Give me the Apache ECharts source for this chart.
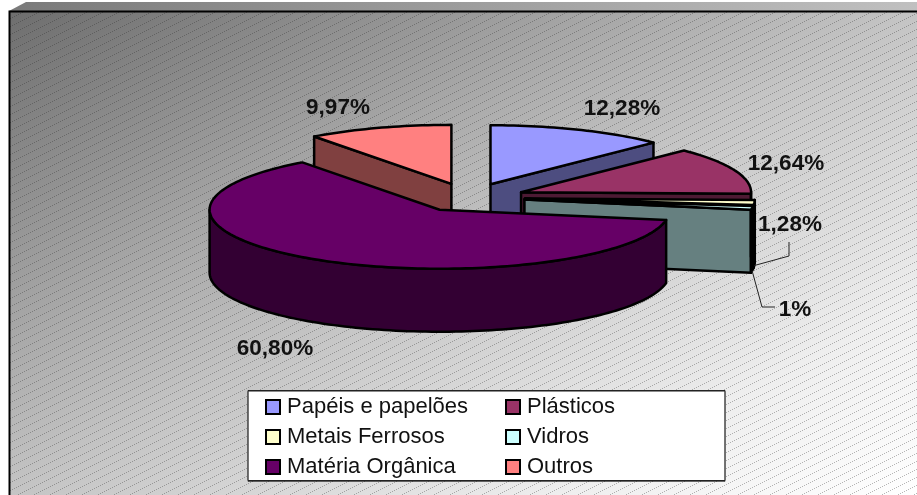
<!DOCTYPE html>
<html>
<head>
<meta charset="utf-8">
<style>html,body{margin:0;padding:0;background:#fff}#c{width:917px;height:495px}</style>
<script src="https://cdn.jsdelivr.net/npm/echarts@6/dist/echarts.min.js"></script>
</head>
<body>
<div id="c"></div>
<script>
const categories = ['Papéis e papelões', 'Plásticos', 'Metais Ferrosos', 'Vidros', 'Matéria Orgânica', 'Outros'];
const values = [12.28, 12.64, 1.28, 1, 60.8, 9.97];
const valueLabels = ['12,28%', '12,64%', '1,28%', '1%', '60,80%', '9,97%'];
const topColors = ['#9999FF', '#993366', '#FFFFCC', '#CCFFFF', '#660066', '#FF8080'];
const sideColors = ['#4D4D80', '#4D1A33', '#808066', '#668080', '#330033', '#804040'];
const drawOrder = [5, 0, 1, 2, 3, 4];
const legendOrder = [0, 2, 4, 1, 3, 5];

// projection of the tilted, exploded pie
const CX = 469, CY = 197.5, RX = 230, RY = 59, DEPTH = 63, EXPLODE = 56;
const labelAt = [[622, 108.5], [786, 163.5], [790, 224.5], [795, 309.5], [275, 348.5], [338, 107.5]];
const leaderBends = { 2: [[789, 256], [789, 242]], 3: [[762, 307], [775, 307]] };

const total = values.reduce((a, b) => a + b, 0);
const ranges = [];
values.reduce((acc, v, i) => { const e = acc + v / total * 360; ranges[i] = [acc, e]; return e; }, 0);
const rad = d => d * Math.PI / 180;

function sliceGeometry(i) {
  const [a0, a1] = ranges[i];
  const mid = rad((a0 + a1) / 2);
  const ox = CX + EXPLODE * Math.sin(mid);
  const oy = CY - EXPLODE * (RY / RX) * Math.cos(mid);
  const pt = (deg, down) => [ox + RX * Math.sin(rad(deg)), oy - RY * Math.cos(rad(deg)) + (down || 0)];
  return { a0, a1, ox, oy, pt };
}
function arc(pt, from, to, down) {
  const out = [], n = Math.max(2, Math.ceil((to - from) / 1.5));
  for (let k = 0; k <= n; k++) out.push(pt(from + (to - from) * k / n, down));
  return out;
}
function renderSlice(i) {
  const g = sliceGeometry(i), kids = [];
  const stroke = { stroke: '#000', lineWidth: 2.5, lineJoin: 'round' };
  let z = 1;
  const poly = (points, fill) => kids.push({ type: 'polygon', z2: z++, silent: true, shape: { points }, style: Object.assign({ fill }, stroke) });
  const face = deg => poly([[g.ox, g.oy], g.pt(deg), g.pt(deg, DEPTH), [g.ox, g.oy + DEPTH]], sideColors[i]);
  // radial faces that look toward the viewer
  if (Math.sin(rad(g.a0)) < 0) face(g.a0);
  if (Math.sin(rad(g.a1)) > 0) face(g.a1);
  // outer wall
  const w0 = Math.max(g.a0, 90), w1 = Math.min(g.a1, 270);
  if (w1 > w0) poly(arc(g.pt, w0, w1, 0).concat(arc(g.pt, w0, w1, DEPTH).reverse()), sideColors[i]);
  // top surface
  poly([[g.ox, g.oy]].concat(arc(g.pt, g.a0, g.a1, 0)), topColors[i]);
  // leader lines
  if (leaderBends[i]) {
    const start = g.pt((g.a0 + g.a1) / 2, DEPTH);
    kids.push({ type: 'polyline', z2: z++, silent: true, shape: { points: [start].concat(leaderBends[i]) }, style: { stroke: '#222', lineWidth: 1, fill: null } });
  }
  kids.push({ type: 'text', z2: z++, silent: true, style: { x: labelAt[i][0], y: labelAt[i][1], text: valueLabels[i], align: 'center', verticalAlign: 'middle', fill: '#111', font: 'bold 22.5px "Liberation Sans", Arial, sans-serif' } });
  return { type: 'group', children: kids };
}

// dotted diagonal hatch tile
const tile = document.createElement('canvas');
tile.width = 16; tile.height = 8;
const tc = tile.getContext('2d');
tc.fillStyle = 'rgba(40,40,40,0.33)';
for (let x = 0; x < 16; x += 2) tc.fillRect(x, 7 - Math.floor(x / 2), 1, 1);

const PX = 10, PY = 11, PW = 907, PH = 484;
const k = 2 * PW * PH / (PW * PW + PH * PH);

const chart = echarts.init(document.getElementById('c'), null, { renderer: 'canvas', width: 917, height: 495 });
chart.setOption({
  animation: false,
  backgroundColor: '#fff',
  graphic: { elements: [
    { type: 'polygon', silent: true, z: 0, shape: { points: [[9, 11], [26, 2], [917, 2], [917, 11]] },
      style: { fill: new echarts.graphic.LinearGradient(9, 0, 917, 0, [{ offset: 0, color: '#7a7a7a' }, { offset: 1, color: '#c0c0c0' }], true) } },
    { type: 'rect', silent: true, z: 0, shape: { x: PX, y: PY, width: PW, height: PH },
      style: { fill: new echarts.graphic.LinearGradient(PX, PY, PX + k * PH, PY + k * PW, [{ offset: 0, color: '#6e6e6e' }, { offset: 0.5, color: '#c4c4c4' }, { offset: 0.8, color: '#eeeeee' }, { offset: 1, color: '#ffffff' }], true) } },
    { type: 'rect', silent: true, z: 0, shape: { x: PX, y: PY, width: PW, height: PH },
      style: { fill: { image: tile, repeat: 'repeat' } } },
    { type: 'polyline', silent: true, z: 1, shape: { points: [[9.5, 495], [9.5, 11.5], [917, 11.5]] }, style: { stroke: '#000', lineWidth: 2, fill: null } },
    { type: 'rect', silent: true, z: 3, shape: { x: 248, y: 390.5, width: 477, height: 90 },
      style: { fill: '#fff', stroke: '#222', lineWidth: 1, shadowColor: 'rgba(0,0,0,0.45)', shadowBlur: 0, shadowOffsetX: 0, shadowOffsetY: 1 } }
  ] },
  legend: {
    orient: 'vertical',
    left: 265, top: 392, height: 90, padding: 0, itemGap: 0,
    itemWidth: 14, itemHeight: 14, selectedMode: false, z: 4,
    icon: 'rect',
    textStyle: { fontFamily: '"Liberation Sans", Arial, sans-serif', fontSize: 22, color: '#111', lineHeight: 30, width: 218, overflow: 'none', padding: [0, 0, 0, 2] },
    data: legendOrder.map(i => ({ name: categories[i], itemStyle: { color: topColors[i], borderColor: '#000', borderWidth: 2 } }))
  },
  series: drawOrder.map(i => ({
    type: 'custom',
    name: categories[i],
    coordinateSystem: 'none',
    silent: true,
    z: 2,
    itemStyle: { color: topColors[i] },
    data: [values[i]],
    renderItem: () => renderSlice(i)
  }))
});
</script>
</body>
</html>
